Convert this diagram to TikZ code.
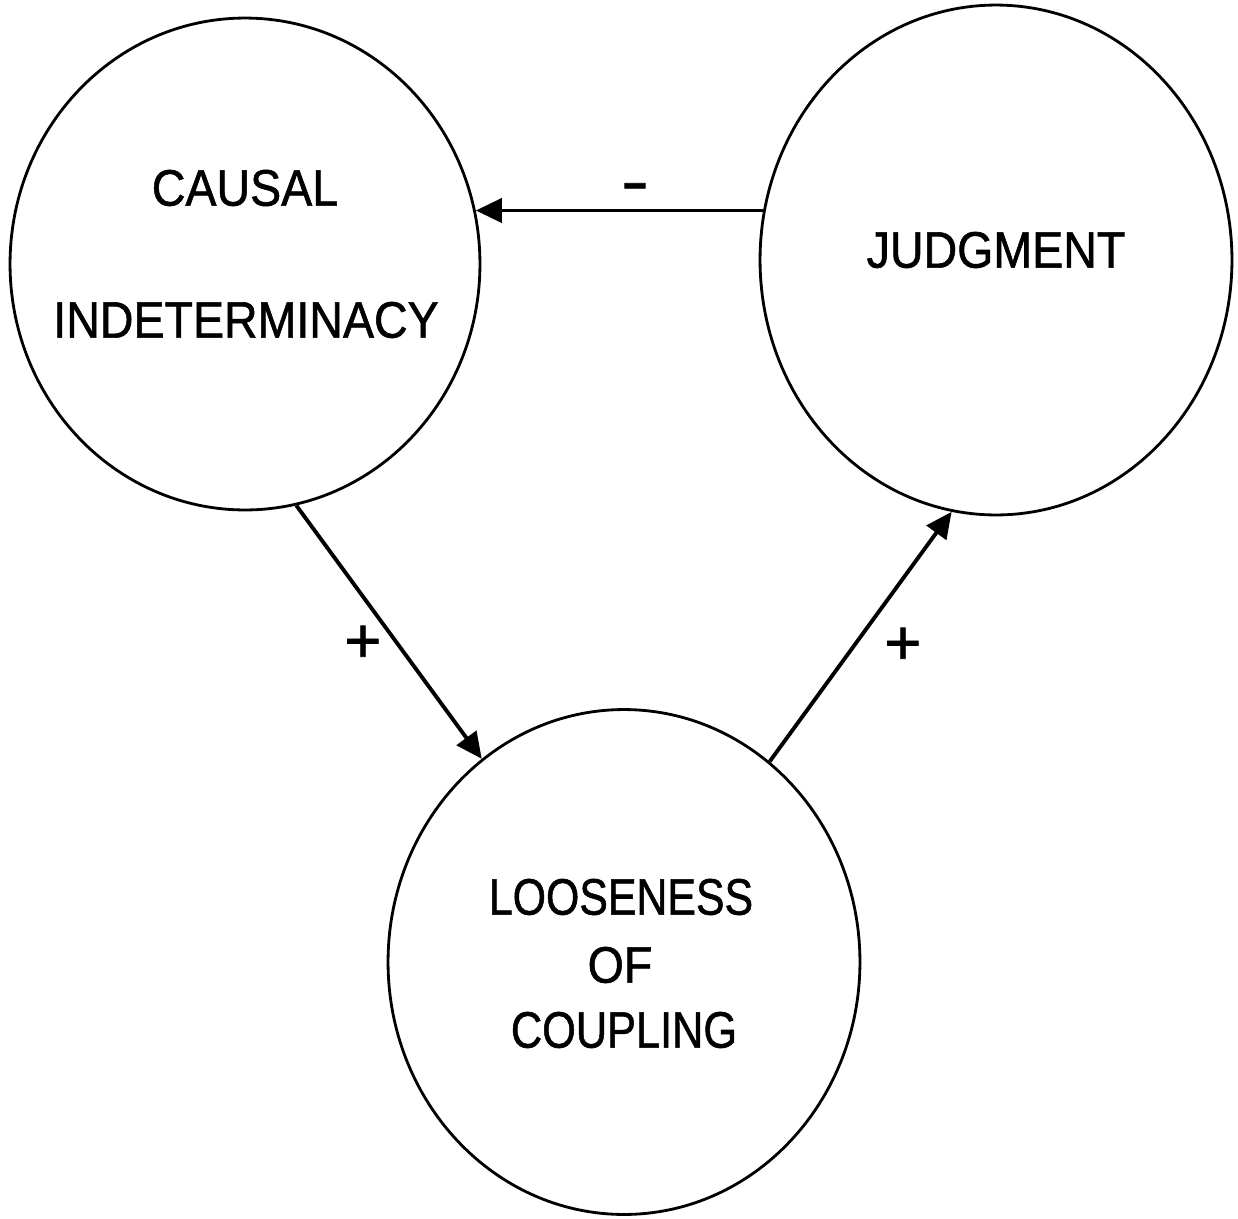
\documentclass[tikz,border=0pt]{standalone}
\usepackage{fontspec}
\setmainfont{Liberation Sans}[FakeBold=1.2]
\usetikzlibrary{shapes.geometric,arrows.meta}
\begin{document}
\begin{tikzpicture}[x=0.02cm,y=-0.02cm,
  blob/.style={draw,ellipse,line width=1.6pt,inner sep=0pt},
  lbl/.style={inner sep=0pt,font=\fontsize{26.5}{30}\selectfont},
  sign/.style={inner sep=0pt,font=\fontsize{36}{40}\selectfont},
  arr/.style={line width=2.2pt,-{Triangle[length=0.52cm,width=0.48cm]}}]
\useasboundingbox (0,0) rectangle (1238,1218);
\node[blob,minimum width=9.4cm,minimum height=9.84cm] (L) at (245,264) {};
\node[blob,minimum width=9.44cm,minimum height=10.2cm] (R) at (996,260) {};
\node[blob,minimum width=9.44cm,minimum height=10.1cm] (B) at (624,962) {};
\node[lbl] (t1) at (245,188) {\scalebox{1}[1.1]{CAUSAL}};
\node[lbl] (t2) at (246,320) {\scalebox{1}[1.1]{INDETERMINACY}};
\node[lbl] (t3) at (996,250) {\scalebox{1}[1.1]{JUDGMENT}};
\node[lbl] (t4) at (621,897) {\scalebox{0.92}[1.1]{LOOSENESS}};
\node[lbl] (t5) at (620,965) {\scalebox{1}[1.1]{OF}};
\node[lbl] (t6) at (624,1030) {\scalebox{0.93}[1.1]{COUPLING}};
\draw[arr] (R.168) -- (L.13 |- R.168);
\draw[arr] (L.-78) -- (B.125.2);
\draw[arr] (B.54.4) -- (R.-100.4);
\node[sign] (s1) at (635,193) {\scalebox{1.3}[1]{-}};
\node[sign] (s2) at (363,644) {+};
\node[sign] (s3) at (903,646) {+};
\end{tikzpicture}
\end{document}
